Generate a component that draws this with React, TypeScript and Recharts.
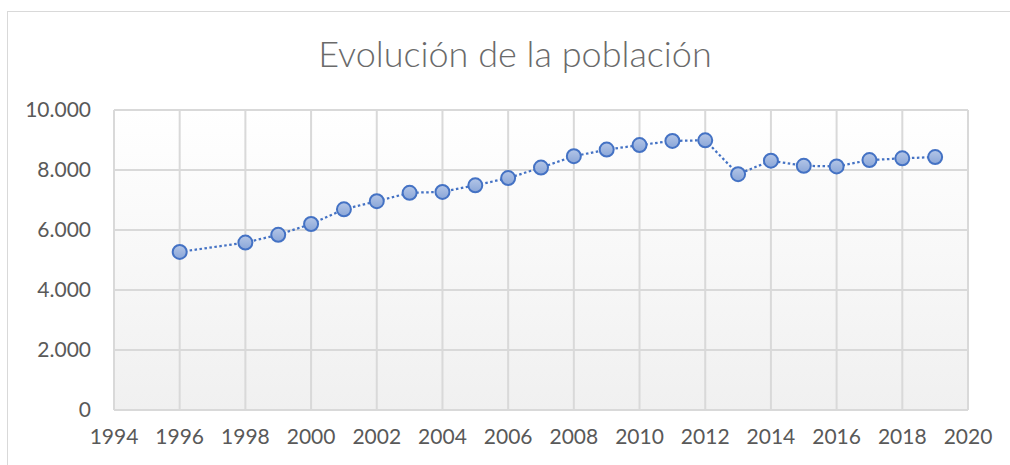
import React from "react";
import { CartesianGrid, ComposedChart, Line, XAxis, YAxis } from "recharts";

const years = [1996, 1998, 1999, 2000, 2001, 2002, 2003, 2004, 2005, 2006, 2007, 2008, 2009, 2010, 2011, 2012, 2013, 2014, 2015, 2016, 2017, 2018, 2019];
const population = [5270, 5580, 5840, 6200, 6690, 6960, 7240, 7270, 7490, 7730, 8080, 8460, 8680, 8830, 8970, 8990, 7860, 8310, 8140, 8120, 8330, 8390, 8430];
const xTicks = [1994, 1996, 1998, 2000, 2002, 2004, 2006, 2008, 2010, 2012, 2014, 2016, 2018, 2020];
const yTicks = [0, 2000, 4000, 6000, 8000, 10000];

const data = years.map((year, i) => ({ year, value: population[i] }));

const font = "Lato, 'Open Sans', sans-serif";
const textColor = "#595959";

const fmt = (v: number) => String(v).replace(/\B(?=(\d{3})+(?!\d))/g, ".");

function Marker(props: any) {
  const { cx, cy } = props;
  if (cx == null || cy == null) return null;
  return <circle cx={cx} cy={cy} r={7} fill="url(#markerFill)" stroke="#4472C4" strokeWidth={2} />;
}

export default function App() {
  return (
    <div style={{ position: "absolute", left: 0, top: 0, width: 1010, height: 465, background: "#fff", fontFamily: font }}>
      <svg width={0} height={0} style={{ position: "absolute" }}>
        <defs>
          <linearGradient id="plotBg" x1="0" x2="0" y1="0" y2="1">
            <stop offset="0%" stopColor="#ffffff" />
            <stop offset="100%" stopColor="#f0f0f0" />
          </linearGradient>
          <linearGradient id="markerFill" x1="0" x2="0" y1="0" y2="1">
            <stop offset="0%" stopColor="#b4c6e7" />
            <stop offset="100%" stopColor="#8aa6d8" />
          </linearGradient>
        </defs>
      </svg>
      <div style={{ position: "absolute", left: 7, top: 11, width: 1010, height: 470, borderLeft: "1.5px solid #d9d9d9", borderTop: "1.5px solid #d9d9d9" }} />
      <div style={{ position: "absolute", left: 0, top: 31, width: 1030, textAlign: "center", fontSize: 36, fontWeight: 300, color: "#6a6a6a", fontFamily: font, lineHeight: "44px" }}>
        Evolución de la población
      </div>
      <div style={{ position: "absolute", left: 0, top: 0 }}>
        <ComposedChart width={1010} height={465} data={data} margin={{ top: 110, right: 42, bottom: 0, left: 0 }}>
          <CartesianGrid stroke="#d9d9d9" strokeWidth={2} fill="url(#plotBg)" fillOpacity={1} />
          <XAxis
            dataKey="year"
            type="number"
            domain={[1994, 2020]}
            ticks={xTicks}
            height={55}
            axisLine={false}
            tickLine={false}
            tickSize={0}
            tickMargin={19}
            interval={0}
            tick={{ fill: textColor, fontSize: 21, fontFamily: font }}
          />
          <YAxis
            type="number"
            domain={[0, 10000]}
            ticks={yTicks}
            width={114}
            axisLine={false}
            tickLine={false}
            tickSize={0}
            tickMargin={23}
            interval={0}
            tickFormatter={fmt}
            tick={{ fill: textColor, fontSize: 21, fontFamily: font }}
          />
          <Line
            dataKey="value"
            type="linear"
            stroke="#4472C4"
            strokeWidth={2.25}
            strokeDasharray="2.5 2.5"
            dot={<Marker />}
            activeDot={false}
            isAnimationActive={false}
          />
        </ComposedChart>
      </div>
    </div>
  );
}
